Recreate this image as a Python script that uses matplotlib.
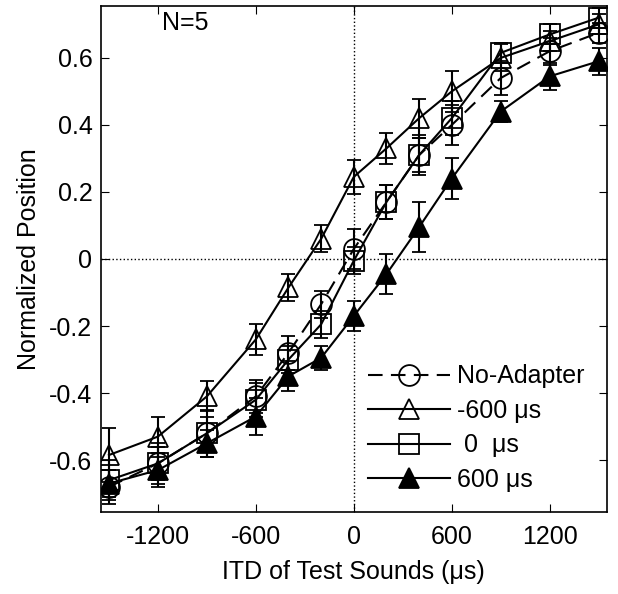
import numpy as np
import matplotlib.pyplot as plt

plt.rcParams['font.family'] = ['Liberation Sans', 'DejaVu Sans']
plt.rcParams['axes.unicode_minus'] = False

itd = [-1500, -1200, -900, -600, -400, -200, 0, 200, 400, 600, 900, 1200, 1500]

no_adapter = [-0.68, -0.61, -0.52, -0.41, -0.28, -0.135, 0.03, 0.17, 0.31, 0.40, 0.54, 0.62, 0.675]
no_adapter_err = [0.05, 0.06, 0.05, 0.05, 0.05, 0.04, 0.06, 0.05, 0.06, 0.06, 0.05, 0.04, 0.03]

adapt_m600 = [-0.585, -0.53, -0.41, -0.24, -0.085, 0.06, 0.245, 0.33, 0.42, 0.50, 0.60, 0.65, 0.70]
adapt_m600_err = [0.08, 0.06, 0.045, 0.045, 0.04, 0.04, 0.05, 0.047, 0.058, 0.06, 0.04, 0.03, 0.03]

adapt_0 = [-0.66, -0.61, -0.52, -0.42, -0.30, -0.195, -0.005, 0.17, 0.31, 0.42, 0.615, 0.67, 0.72]
adapt_0_err = [0.06, 0.05, 0.07, 0.05, 0.04, 0.04, 0.04, 0.05, 0.05, 0.05, 0.03, 0.03, 0.03]

adapt_p600 = [-0.67, -0.63, -0.55, -0.47, -0.35, -0.295, -0.17, -0.045, 0.095, 0.24, 0.44, 0.545, 0.59]
adapt_p600_err = [0.04, 0.05, 0.04, 0.055, 0.045, 0.035, 0.045, 0.06, 0.075, 0.06, 0.03, 0.04, 0.04]

labels = ['No-Adapter', '-600 \u03bcs', ' 0  \u03bcs', '600 \u03bcs']

fig = plt.figure(figsize=(6.18, 5.94), dpi=100)
ax = fig.add_axes([0.163, 0.138, 0.819, 0.852])

ax.axvline(0, color='k', ls=':', lw=1)
ax.axhline(0, color='k', ls=':', lw=1)

common = dict(color='k', lw=1.5, ms=15, capsize=5, elinewidth=1.5, capthick=1.5, mew=1.3)
h1 = ax.errorbar(itd, no_adapter, yerr=no_adapter_err, ls=(0, (7, 4)), marker='o', mfc='none', **common)
h2 = ax.errorbar(itd, adapt_m600, yerr=adapt_m600_err, ls='-', marker='^', mfc='none', **common)
h3 = ax.errorbar(itd, adapt_0, yerr=adapt_0_err, ls='-', marker='s', mfc='none', **common)
h4 = ax.errorbar(itd, adapt_p600, yerr=adapt_p600_err, ls='-', marker='^', mfc='k', **common)

ax.set_xlim(-1550, 1550)
ax.set_ylim(-0.755, 0.755)
ax.set_xticks([-1200, -600, 0, 600, 1200])
ax.set_yticks([-0.6, -0.4, -0.2, 0, 0.2, 0.4, 0.6])
ax.set_yticklabels(['-0.6', '-0.4', '-0.2', '0', '0.2', '0.4', '0.6'])
ax.tick_params(direction='in', top=True, right=True, length=6, labelsize=18)
ax.tick_params(axis='x', pad=9)
ax.tick_params(axis='y', pad=6)
for s in ax.spines.values():
    s.set_linewidth(1.2)

ax.set_xlabel('ITD of Test Sounds (\u03bcs)', fontsize=18, labelpad=8)
ax.set_ylabel('Normalized Position', fontsize=18, labelpad=6)
ax.text(-1035, 0.74, 'N=5', fontsize=18, va='top', ha='center')

leg = ax.legend([h1[0], h2[0], h3[0], h4[0]], labels, loc='lower left', frameon=False,
                fontsize=18, handlelength=3.3, labelspacing=0.42, handletextpad=0.28,
                borderpad=0, borderaxespad=0, bbox_to_anchor=(0.528, 0.04))

fig.savefig('out.png', dpi=100)
